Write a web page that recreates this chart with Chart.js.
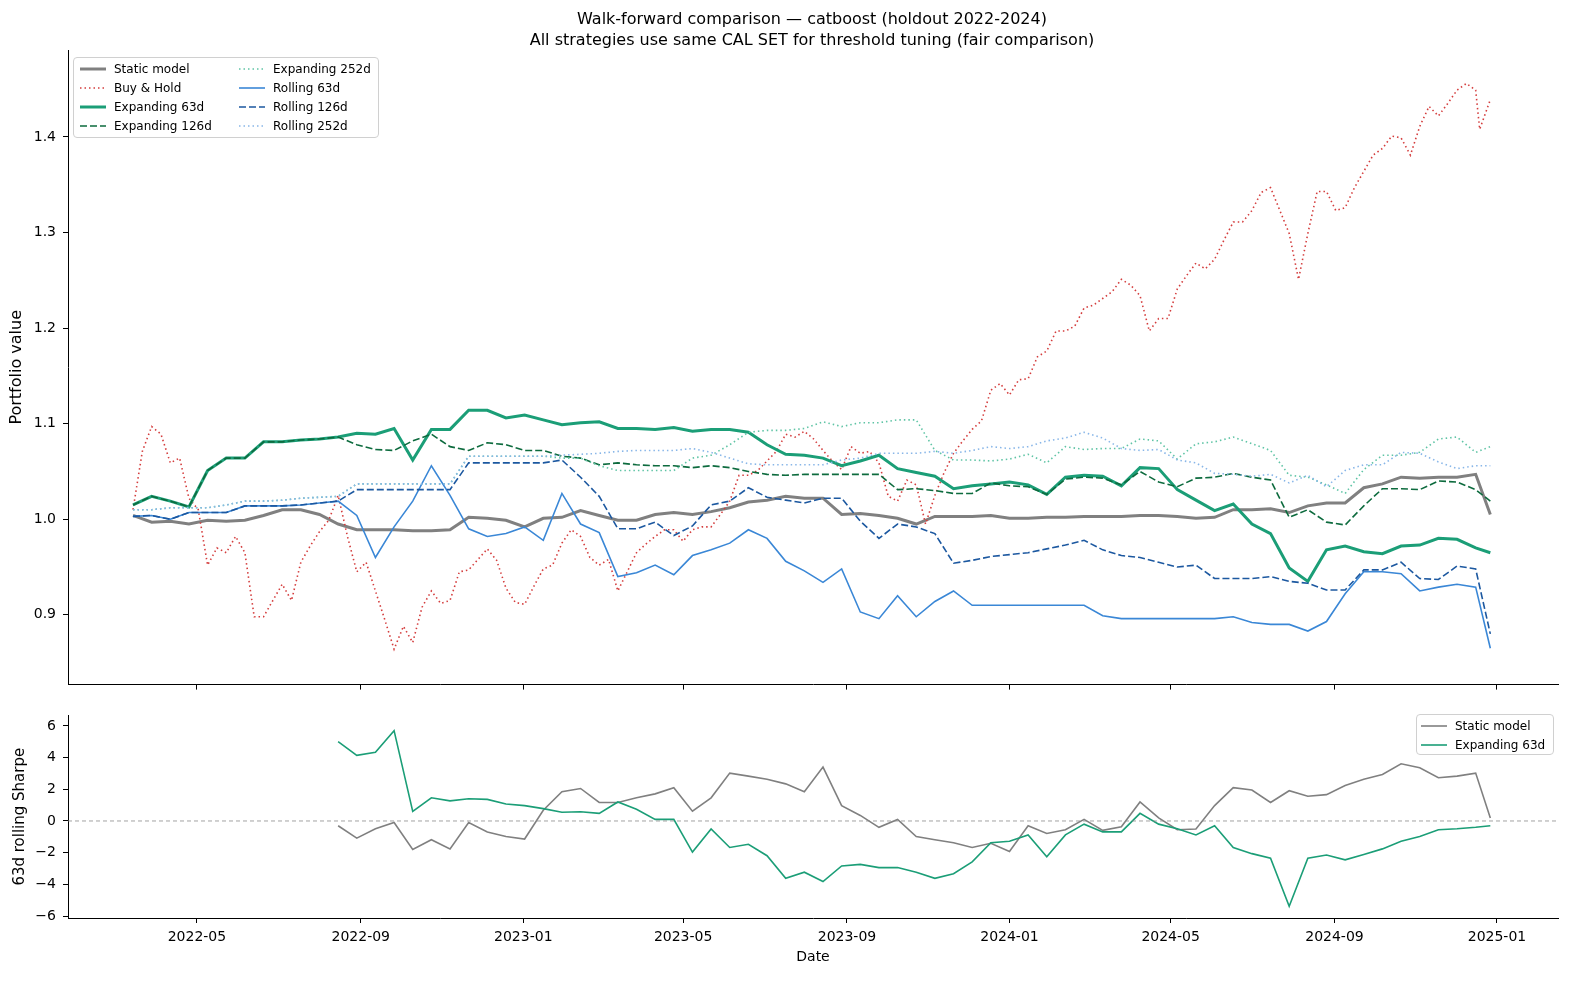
<!DOCTYPE html>
<html>
<head>
<meta charset="utf-8">
<script src="https://cdn.jsdelivr.net/npm/chart.js@4.4.0/dist/chart.umd.min.js"></script>
<style>
  body { margin: 0; background: #fff; overflow: hidden; font-family: "DejaVu Sans", sans-serif; }
  #wrap { position: relative; width: 1587px; height: 986px; }
  #topChart { position: absolute; left: 0; top: 0; }
  #bottomChart { position: absolute; left: 0; top: 700px; }
  #title { position: absolute; left: 312px; width: 1000px; top: 8px; text-align: center;
           font-size: 16px; line-height: 21px; color: #000; }
  .legend { position: absolute; background: rgba(255,255,255,0.85); border: 1px solid #d0d0d0;
            border-radius: 4px; font-size: 12px; color: #000; }
  .li { position: absolute; height: 19px; display: flex; align-items: center; white-space: nowrap; }
  .li svg { margin-right: 8px; }
</style>
</head>
<body>
<div id="wrap">
  <canvas id="topChart" width="1587" height="700"></canvas>
  <canvas id="bottomChart" width="1587" height="286"></canvas>
  <div id="title">Walk-forward comparison — catboost (holdout 2022-2024)<br>All strategies use same CAL SET for threshold tuning (fair comparison)</div>
  <div id="legendTop" class="legend" style="left:73px;top:57px;width:304px;height:79px;"></div>
  <div id="legendBottom" class="legend" style="left:1416px;top:714px;width:136px;height:39px;"></div>
</div>
<script>
// sample dates (every two weeks)
const dates = [
  "2022-03-14","2022-03-28","2022-04-11","2022-04-25","2022-05-09","2022-05-23","2022-06-06","2022-06-20",
  "2022-07-04","2022-07-18","2022-08-01","2022-08-15","2022-08-29","2022-09-12","2022-09-26","2022-10-10",
  "2022-10-24","2022-11-07","2022-11-21","2022-12-05","2022-12-19","2023-01-02","2023-01-16","2023-01-30",
  "2023-02-13","2023-02-27","2023-03-13","2023-03-27","2023-04-10","2023-04-24","2023-05-08","2023-05-22",
  "2023-06-05","2023-06-19","2023-07-03","2023-07-17","2023-07-31","2023-08-14","2023-08-28","2023-09-11",
  "2023-09-25","2023-10-09","2023-10-23","2023-11-06","2023-11-20","2023-12-04","2023-12-18","2024-01-01",
  "2024-01-15","2024-01-29","2024-02-12","2024-02-26","2024-03-11","2024-03-25","2024-04-08","2024-04-22",
  "2024-05-06","2024-05-20","2024-06-03","2024-06-17","2024-07-01","2024-07-15","2024-07-29","2024-08-12",
  "2024-08-26","2024-09-09","2024-09-23","2024-10-07","2024-10-21","2024-11-04","2024-11-18","2024-12-02",
  "2024-12-16","2024-12-27"
];

const staticModel = [
  1.004,0.997,0.998,0.995,0.999,0.998,0.999,1.004,1.010,1.010,1.005,0.995,0.989,0.989,0.989,0.988,0.988,
  0.989,1.002,1.001,0.999,0.992,1.001,1.002,1.009,1.004,0.999,0.999,1.005,1.007,1.005,1.008,1.012,1.018,1.020,1.024,
  1.022,1.022,1.005,1.006,1.004,1.001,0.995,1.003,1.003,1.003,1.004,1.001,1.001,1.002,1.002,1.003,1.003,1.003,1.004,
  1.004,1.003,1.001,1.002,1.010,1.010,1.011,1.007,1.014,1.017,1.017,1.033,1.037,1.044,1.043,1.044,1.044,1.047,1.005
];
const buyHold = [
  1.010,1.097,1.059,1.022,0.952,0.965,0.965,0.898,0.932,0.955,0.987,1.025,0.945,0.925,0.864,0.871,0.925,
  0.915,0.947,0.969,0.928,0.911,0.948,0.975,0.982,0.952,0.925,0.965,0.982,0.989,0.989,0.992,1.019,1.046,1.061,1.089,
  1.092,1.072,1.052,1.069,1.059,1.019,1.036,1.025,1.069,1.094,1.135,1.130,1.147,1.176,1.197,1.221,1.231,1.251,1.234,
  1.210,1.241,1.268,1.272,1.311,1.323,1.347,1.299,1.299,1.343,1.326,1.364,1.388,1.399,1.411,1.422,1.449,1.449,1.439
];
// Buy & Hold is wigglier: extra readings between the two-week dates
const buyHoldMidDates = [
  "2022-03-21","2022-04-04","2022-04-18","2022-05-02","2022-05-16","2022-05-30","2022-06-13","2022-06-27",
  "2022-07-11","2022-07-25","2022-08-08","2022-08-22","2022-09-05","2022-09-19","2022-10-03","2022-10-17",
  "2022-10-31","2022-11-14","2022-11-28","2022-12-12","2022-12-26","2023-01-09","2023-01-23","2023-02-06",
  "2023-02-20","2023-03-06","2023-03-20","2023-04-03","2023-04-17","2023-05-01","2023-05-15","2023-05-29",
  "2023-06-12","2023-06-26","2023-07-10","2023-07-24","2023-08-07","2023-08-21","2023-09-04","2023-09-18",
  "2023-10-02","2023-10-16","2023-10-30","2023-11-13","2023-11-27","2023-12-11","2023-12-25","2024-01-08",
  "2024-01-22","2024-02-05","2024-02-19","2024-03-04","2024-03-18","2024-04-01","2024-04-15","2024-04-29",
  "2024-05-13","2024-05-27","2024-06-10","2024-06-24","2024-07-08","2024-07-22","2024-08-05","2024-08-19",
  "2024-09-02","2024-09-16","2024-09-30","2024-10-14","2024-10-28","2024-11-11","2024-11-25","2024-12-09",
  "2024-12-19"
];
const buyHoldMid = [
  1.071,1.089,1.064,1.010,0.970,0.982,0.898,0.915,0.915,0.972,0.999,0.982,0.955,0.895,0.888,0.908,0.912,
  0.945,0.958,0.957,0.913,0.930,0.952,0.989,0.960,0.958,0.945,0.974,0.989,0.977,0.992,1.005,1.046,1.051,
  1.071,1.086,1.084,1.061,1.076,1.071,1.024,1.041,0.995,1.049,1.082,1.103,1.142,1.146,1.170,1.197,1.202,
  1.224,1.238,1.245,1.197,1.210,1.255,1.262,1.292,1.311,1.342,1.323,1.251,1.343,1.323,1.347,1.381,1.401,
  1.381,1.432,1.435,1.456,1.408
];
const expanding63 = [
  1.015,1.024,1.019,1.013,1.051,1.064,1.064,1.081,1.081,1.083,1.084,1.086,1.090,1.089,1.095,1.062,1.094,
  1.094,1.114,1.114,1.106,1.109,1.104,1.099,1.101,1.102,1.095,1.095,1.094,1.096,1.092,1.094,1.094,1.091,1.078,1.068,
  1.067,1.064,1.056,1.061,1.067,1.053,1.049,1.045,1.032,1.035,1.037,1.039,1.036,1.026,1.044,1.046,1.045,1.035,1.054,
  1.053,1.031,1.020,1.009,1.016,0.995,0.985,0.949,0.935,0.968,0.972,0.966,0.964,0.972,0.973,0.980,0.979,0.970,0.965
];
const expanding126 = [
  1.015,1.024,1.019,1.013,1.051,1.064,1.064,1.081,1.081,1.083,1.084,1.086,1.078,1.073,1.072,1.082,1.089,
  1.076,1.072,1.080,1.078,1.072,1.072,1.066,1.064,1.057,1.059,1.057,1.056,1.056,1.054,1.056,1.054,1.050,1.047,1.046,
  1.047,1.047,1.047,1.047,1.047,1.031,1.032,1.030,1.027,1.027,1.038,1.035,1.034,1.026,1.042,1.044,1.043,1.036,1.050,
  1.039,1.034,1.043,1.044,1.048,1.044,1.041,1.002,1.010,0.997,0.994,1.014,1.032,1.032,1.031,1.040,1.039,1.031,1.019
];
const expanding252 = [
  1.010,1.010,1.012,1.012,1.012,1.015,1.019,1.019,1.020,1.022,1.023,1.024,1.037,1.037,1.037,1.037,1.037,
  1.037,1.066,1.066,1.066,1.066,1.066,1.064,1.064,1.056,1.051,1.051,1.051,1.051,1.064,1.067,1.078,1.091,1.093,1.093,
  1.095,1.102,1.097,1.101,1.101,1.104,1.104,1.072,1.062,1.062,1.061,1.063,1.068,1.059,1.076,1.073,1.074,1.074,1.084,
  1.082,1.063,1.079,1.081,1.086,1.079,1.072,1.046,1.044,1.036,1.027,1.052,1.067,1.067,1.070,1.084,1.086,1.070,1.076
];
const rolling63 = [
  1.003,1.004,1.000,1.007,1.007,1.007,1.014,1.014,1.014,1.015,1.017,1.019,1.004,0.960,0.992,1.019,1.056,
  1.025,0.990,0.982,0.985,0.992,0.978,1.027,0.995,0.986,0.940,0.944,0.952,0.942,0.962,0.968,0.975,0.989,0.980,0.956,
  0.946,0.934,0.948,0.903,0.896,0.920,0.898,0.914,0.925,0.910,0.910,0.910,0.910,0.910,0.910,0.910,0.899,0.896,0.896,
  0.896,0.896,0.896,0.896,0.898,0.892,0.890,0.890,0.883,0.893,0.922,0.945,0.945,0.943,0.925,0.929,0.932,0.929,0.865
];
const rolling126 = [
  1.003,1.004,1.000,1.007,1.007,1.007,1.014,1.014,1.014,1.015,1.017,1.019,1.031,1.031,1.031,1.031,1.031,
  1.031,1.059,1.059,1.059,1.059,1.059,1.062,1.044,1.024,0.990,0.990,0.997,0.983,0.993,1.015,1.019,1.033,1.023,1.020,
  1.017,1.022,1.022,0.998,0.980,0.995,0.992,0.985,0.954,0.957,0.961,0.963,0.965,0.969,0.973,0.978,0.968,0.962,0.960,
  0.955,0.950,0.952,0.938,0.938,0.938,0.940,0.935,0.933,0.926,0.926,0.947,0.947,0.955,0.938,0.937,0.951,0.948,0.880
];
const rolling252 = [
  1.010,1.010,1.012,1.012,1.012,1.015,1.019,1.019,1.020,1.022,1.023,1.024,1.037,1.037,1.037,1.037,1.037,
  1.037,1.066,1.066,1.066,1.066,1.066,1.067,1.068,1.069,1.071,1.072,1.072,1.072,1.074,1.070,1.064,1.058,1.057,1.057,
  1.057,1.057,1.062,1.064,1.069,1.069,1.069,1.071,1.069,1.072,1.076,1.074,1.076,1.082,1.085,1.091,1.085,1.074,1.072,
  1.073,1.062,1.059,1.048,1.047,1.045,1.047,1.038,1.046,1.034,1.051,1.057,1.057,1.070,1.069,1.060,1.053,1.056,1.056
];

// 63d rolling Sharpe (starts late August 2022)
const sharpeStatic = [
  null,null,null,null,null,null,null,null,null,null,null,-0.30,-1.08,-0.49,-0.10,-1.80,-1.18,
  -1.76,-0.10,-0.69,-0.98,-1.14,0.68,1.85,2.05,1.17,1.17,1.46,1.71,2.10,0.62,1.46,3.02,2.83,2.63,2.34,
  1.85,3.40,0.97,0.35,-0.40,0.10,-0.98,-1.18,-1.37,-1.67,-1.41,-1.92,-0.30,-0.79,-0.55,0.10,-0.59,-0.36,1.20,
  0.19,-0.55,-0.51,0.97,2.10,1.95,1.17,1.91,1.56,1.66,2.24,2.63,2.93,3.61,3.36,2.73,2.83,3.02,0.19
];
const sharpeExpanding63 = [
  null,null,null,null,null,null,null,null,null,null,null,5.00,4.14,4.33,5.70,0.60,1.46,
  1.27,1.40,1.36,1.07,0.97,0.78,0.55,0.58,0.48,1.20,0.74,0.10,0.10,-1.96,-0.50,-1.67,-1.47,-2.19,-3.62,
  -3.23,-3.82,-2.84,-2.74,-2.94,-2.94,-3.23,-3.62,-3.33,-2.58,-1.37,-1.28,-0.88,-2.25,-0.88,-0.20,-0.69,-0.69,0.48,
  -0.20,-0.49,-0.88,-0.30,-1.67,-2.06,-2.35,-5.38,-2.35,-2.15,-2.45,-2.11,-1.76,-1.28,-0.98,-0.55,-0.49,-0.40,-0.30
];

const tickDates = ["2022-05-01","2022-09-01","2023-01-01","2023-05-01","2023-09-01",
                   "2024-01-01","2024-05-01","2024-09-01","2025-01-01"];
const valueTicks = [0.9, 1.0, 1.1, 1.2, 1.3, 1.4];
const sharpeTicks = [-6, -4, -2, 0, 2, 4, 6];

const DAY = 86400000;
const base = Date.parse("2022-05-01");
const xMin = base - 96.8 * DAY;
const xMax = base + 1021.8 * DAY;
const FONT = "DejaVu Sans";

function pts(values, when) {
  when = when || dates;
  return when.map((d, i) => ({ x: Date.parse(d), y: values[i] }));
}

function fmtMonth(v) {
  let d = new Date(v);
  return d.getUTCFullYear() + "-" + String(d.getUTCMonth() + 1).padStart(2, "0");
}

// merge the two-week and the in-between Buy & Hold readings in date order
let buyHoldPoints = pts(buyHold).concat(pts(buyHoldMid, buyHoldMidDates));
buyHoldPoints.sort((a, b) => a.x - b.x);

const DOT = [1.5, 3];
const DASH = [7, 3];

const topSeries = [
  { label: "Static model",   points: pts(staticModel),  color: "#808080", width: 3,   dash: [] },
  { label: "Buy & Hold",     points: buyHoldPoints,     color: "#d43d3d", width: 1.6, dash: DOT },
  { label: "Expanding 63d",  points: pts(expanding63),  color: "#1b9e77", width: 3,   dash: [] },
  { label: "Expanding 126d", points: pts(expanding126), color: "#0d6b3e", width: 1.6, dash: DASH },
  { label: "Expanding 252d", points: pts(expanding252), color: "#5fc4a5", width: 1.6, dash: DOT },
  { label: "Rolling 63d",    points: pts(rolling63),    color: "#3a87d6", width: 1.6, dash: [] },
  { label: "Rolling 126d",   points: pts(rolling126),   color: "#1c58a0", width: 1.6, dash: DASH },
  { label: "Rolling 252d",   points: pts(rolling252),   color: "#88b6e8", width: 1.6, dash: DOT }
];

const bottomSeries = [
  { label: "Static model",  points: pts(sharpeStatic),      color: "#808080", width: 1.6, dash: [] },
  { label: "Expanding 63d", points: pts(sharpeExpanding63), color: "#1b9e77", width: 1.6, dash: [] }
];

function toDataset(s, i, n) {
  return {
    label: s.label,
    data: s.points,
    borderColor: s.color,
    borderWidth: s.width,
    borderDash: s.dash,
    pointRadius: 0,
    fill: false,
    tension: 0,
    spanGaps: false,
    order: n - i
  };
}

function xScale(showLabels, height) {
  return {
    type: "linear",
    min: xMin,
    max: xMax,
    afterBuildTicks: s => { s.ticks = tickDates.map(t => ({ value: Date.parse(t) })); },
    afterFit: s => { s.height = height; },
    ticks: {
      display: showLabels,
      autoSkip: false,
      maxRotation: 0,
      padding: 6,
      color: "#000",
      font: { family: FONT, size: 14 },
      callback: v => fmtMonth(v)
    },
    grid: { drawOnChartArea: false, drawTicks: true, tickLength: 5, color: "#000", tickColor: "#000" },
    border: { display: true, color: "#000", width: 1 },
    title: {
      display: showLabels,
      text: "Date",
      color: "#000",
      font: { family: FONT, size: 14 },
      padding: { top: 0, bottom: 20 }
    }
  };
}

function yScale(min, max, ticks, fmt, titleText, titleSize, titlePad) {
  return {
    type: "linear",
    min: min,
    max: max,
    afterBuildTicks: s => { s.ticks = ticks.map(v => ({ value: v })); },
    afterFit: s => { s.width = 68; },
    ticks: {
      autoSkip: false,
      padding: 7,
      color: "#000",
      font: { family: FONT, size: 14 },
      callback: fmt
    },
    grid: { drawOnChartArea: false, drawTicks: true, tickLength: 5, color: "#000", tickColor: "#000" },
    border: { display: true, color: "#000", width: 1 },
    title: {
      display: true,
      text: titleText,
      color: "#000",
      font: { family: FONT, size: titleSize },
      padding: { top: titlePad, bottom: 0 }
    }
  };
}

const commonPlugins = { legend: { display: false }, tooltip: { enabled: false }, title: { display: false } };

new Chart(document.getElementById("topChart"), {
  type: "line",
  data: { datasets: topSeries.map((s, i) => toDataset(s, i, topSeries.length)) },
  options: {
    responsive: false,
    animation: false,
    layout: { padding: { left: 0, right: 29, top: 50, bottom: 5 } },
    plugins: commonPlugins,
    scales: {
      x: xScale(false, 8),
      y: yScale(0.827, 1.491, valueTicks, v => v.toFixed(1), "Portfolio value", 16, 7)
    }
  }
});

let bottomSets = bottomSeries.map((s, i) => toDataset(s, i, bottomSeries.length));
bottomSets.push({
  label: "zero",
  data: [{ x: xMin, y: 0 }, { x: xMax, y: 0 }],
  borderColor: "#8a8a8a",
  borderWidth: 0.8,
  borderDash: [4, 3],
  pointRadius: 0,
  fill: false,
  order: 0
});

new Chart(document.getElementById("bottomChart"), {
  type: "line",
  data: { datasets: bottomSets },
  options: {
    responsive: false,
    animation: false,
    layout: { padding: { left: 0, right: 29, top: 6, bottom: 0 } },
    plugins: commonPlugins,
    scales: {
      x: xScale(true, 68),
      y: yScale(-6.12, 6.66, sharpeTicks, v => (v < 0 ? "\u2212" + Math.abs(v) : String(v)),
                "63d rolling Sharpe", 15, 11)
    }
  }
});

function legendItem(s, left, top) {
  let dash = s.dash.length ? s.dash.join(" ") : "none";
  return '<div class="li" style="left:' + left + 'px;top:' + top + 'px;">' +
    '<svg width="26" height="8"><line x1="0" y1="4" x2="26" y2="4" stroke="' + s.color +
    '" stroke-width="' + s.width + '" stroke-dasharray="' + dash + '"/></svg>' +
    '<span>' + s.label.replace("&", "&amp;") + '</span></div>';
}

let html = "";
topSeries.forEach((s, k) => {
  let col = k < 4 ? 0 : 1;
  let row = k % 4;
  html += legendItem(s, col ? 165 : 6, 1 + row * 19.3);
});
document.getElementById("legendTop").innerHTML = html;

html = "";
bottomSeries.forEach((s, k) => {
  html += legendItem(s, 4, 1 + k * 19);
});
document.getElementById("legendBottom").innerHTML = html;
</script>
</body>
</html>
